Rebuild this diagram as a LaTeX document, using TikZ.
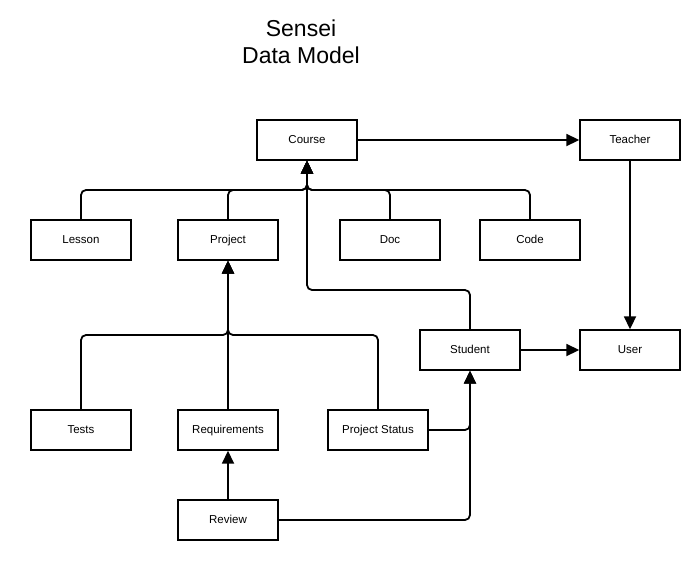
\documentclass[tikz,border=0pt]{standalone}
\usepackage{fontspec}
\setmainfont{Liberation Sans}
\usetikzlibrary{arrows.meta}

\begin{document}
\begin{tikzpicture}[x=1pt,y=-1pt,
  box/.style={draw,line width=1.4pt,minimum width=100pt,minimum height=40pt,
              inner sep=0pt,text height=1.6ex,text depth=.4ex,
              font=\fontsize{11.5}{14}\selectfont},
  link/.style={line width=1.8pt,rounded corners=5pt},
  >={Triangle[length=13pt,width=12pt]}]
\useasboundingbox (0,0) rectangle (700,560);
\node[align=center,font=\fontsize{23}{27}\selectfont] (title) at (301,42) {Sensei\\Data Model};
% first row
\node[box] (course)  at (307,140) {Course};
\node[box] (teacher) at (630,140) {Teacher};
% second row
\node[box] (lesson)  at (81,240)  {Lesson};
\node[box] (project) at (228,240) {Project};
\node[box] (doc)     at (390,240) {Doc};
\node[box] (code)    at (530,240) {Code};
% third row
\node[box] (student) at (470,350) {Student};
\node[box] (user)    at (630,350) {User};
% fourth row
\node[box] (tests)   at (81,430)  {Tests};
\node[box] (req)     at (228,430) {Requirements};
\node[box] (pstat)   at (378,430) {Project Status};
\node[box] (review)  at (228,520) {Review};
\coordinate (cbus) at (307,190);
\coordinate (sbus) at (307,290);
\coordinate (pbus) at (228,335);
\draw[link,->] (course) -- (teacher);
\draw[link,->] (teacher) -- (user);
\draw[link,->] (student) -- (user);
\draw[link,->] (lesson.north)  |- (cbus) -- (course.south);
\draw[link,->] (project.north) |- (cbus) -- (course.south);
\draw[link,->] (doc.north)     |- (cbus) -- (course.south);
\draw[link,->] (code.north)    |- (cbus) -- (course.south);
\draw[link,->] (student.north) |- (sbus) -- (course.south);
\draw[link,->] (tests.north)   |- (pbus) -- (project.south);
\draw[link,->] (req.north)     -- (project.south);
\draw[link,->] (pstat.north)   |- (pbus) -- (project.south);
\draw[link,->] (pstat.east)    -| (student.south);
\draw[link,->] (review.east)   -| (student.south);
\draw[link,->] (review)        -- (req);
\end{tikzpicture}
\end{document}
